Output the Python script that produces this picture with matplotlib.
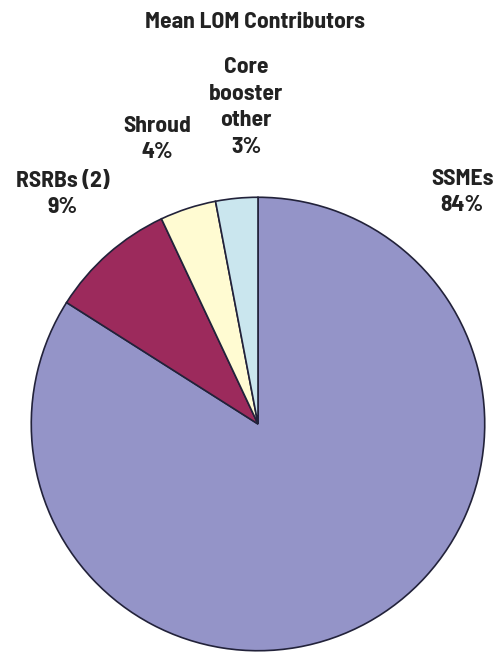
import matplotlib
matplotlib.use("Agg")
import matplotlib.pyplot as plt

labels = ["SSMEs", "RSRBs (2)", "Shroud", "Core\nbooster\nother"]
shares = [84, 9, 4, 3]
colors = ["#9494c8", "#9c2a5c", "#fffbd2", "#cae6ee"]

plt.rcParams['font.family'] = ['Barlow Semi Condensed', 'DejaVu Sans']

W, H = 500, 654
fig = plt.figure(figsize=(W / 100, H / 100), dpi=100)

# pie centre and radius in pixels
cx, cy, r = 258, 424, 229
ax = fig.add_axes([(cx - r) / W, (H - cy - r) / H, 2 * r / W, 2 * r / H])
ax.pie(shares, colors=colors, startangle=90, counterclock=False,
       wedgeprops=dict(edgecolor="#22223a", linewidth=1.2))
ax.set_xlim(-1.01, 1.01)
ax.set_ylim(-1.01, 1.01)
ax.set_aspect("equal")
ax.axis("off")

fig.text(255 / W, 1 - 22 / H, "Mean LOM Contributors", ha="center", va="center",
         fontsize=17, fontweight="bold", color="#222222")

# label positions (pixels, centre of text block)
label_pos = [(462, 192), (63, 194), (157, 139), (246, 107)]
for lab, s, (x, y) in zip(labels, shares, label_pos):
    fig.text(x / W, 1 - y / H, "{}\n{}%".format(lab, s), ha="center", va="center",
             fontsize=17, fontweight="bold", color="#222222", linespacing=1.42)

fig.savefig("out.png", dpi=100)
